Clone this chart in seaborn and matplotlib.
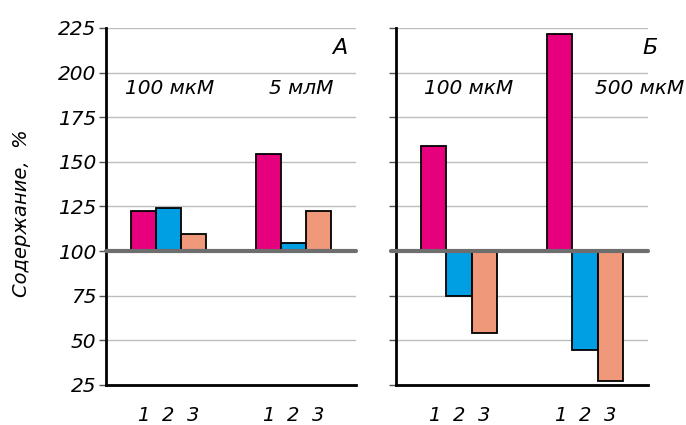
import matplotlib
matplotlib.use("Agg")
import matplotlib.pyplot as plt
import matplotlib.transforms as mtransforms
import seaborn as sns
import pandas as pd

# Content (% of control) for the three compounds at each concentration
groups_a = ["100 мкМ", "5 млМ"]
values_a_1 = [122.5, 154.5]
values_a_2 = [124.0, 104.5]
values_a_3 = [109.5, 122.5]

groups_b = ["100 мкМ", "500 мкМ"]
values_b_1 = [159.0, 221.5]
values_b_2 = [75.0, 44.5]
values_b_3 = [54.0, 27.0]

series = ["1", "2", "3"]
colors = ["#E6007E", "#009FE3", "#F0997A"]
yticks = [25, 50, 75, 100, 125, 150, 175, 200, 225]
base = 100

sns.set_theme(style="white")
plt.rcParams["font.family"] = ["DejaVu Sans"]
plt.rcParams["font.style"] = "italic"
plt.rcParams["text.color"] = "black"
plt.rcParams["ytick.labelcolor"] = "black"

fig = plt.figure(figsize=(6.86, 4.25), dpi=100)
W, H = 686, 425


def px_axes(x0, x1, y0, y1):
    return fig.add_axes([x0 / W, 1 - y1 / H, (x1 - x0) / W, (y1 - y0) / H])


def panel(ax, groups, v1, v2, v3, letter, show_labels, label_x, letter_x):
    df = pd.DataFrame({
        "group": groups * 3,
        "series": [s for s in series for _ in groups],
        "value": list(v1) + list(v2) + list(v3),
    })
    df["delta"] = df["value"] - base
    sns.barplot(data=df, x="group", y="delta", hue="series", order=groups,
                hue_order=series, palette=colors, width=0.6, bottom=base,
                edgecolor="black", linewidth=1.3, saturation=1, ax=ax,
                legend=False, zorder=3)
    ax.set_xlim(-0.5, 1.5)
    ax.set_ylim(25, 225)
    ax.set_yticks(yticks)
    ax.yaxis.grid(True, color="#bdbdbd", linewidth=1.0, zorder=0)
    ax.set_axisbelow(True)
    ax.axhline(base, color="#6e6e6e", linewidth=3, zorder=4,
               xmin=-0.02 if not show_labels else 0, clip_on=False)
    for side in ("top", "right"):
        ax.spines[side].set_visible(False)
    for side in ("left", "bottom"):
        ax.spines[side].set_color("black")
        ax.spines[side].set_linewidth(2)
    ax.tick_params(axis="y", direction="out", length=5, width=1,
                   color="#555555", labelcolor="black", labelsize=14.5,
                   left=True, pad=2)
    if not show_labels:
        ax.set_yticklabels([])
    ax.set_xticks([])
    ax.set_xlabel("")
    ax.set_ylabel("")

    # series numbers under each bar
    trans = mtransforms.blended_transform_factory(ax.transData, ax.transAxes)
    for i, patch in enumerate(ax.patches):
        s = series[i // len(groups)]
        ax.text(patch.get_x() + patch.get_width() / 2, -0.085, s,
                transform=trans, ha="center", va="center", fontsize=14,
                style="italic", color="black")
    for g, gx in zip(groups, label_x):
        ax.text(gx, 0.83, g, transform=trans, ha="center", va="center",
                fontsize=14.5, style="italic", color="black")
    ax.text(letter_x, 0.945, letter, transform=ax.transAxes, ha="right",
            va="center", fontsize=16, style="italic", color="black")


ax1 = px_axes(106, 356, 28, 385)
ax2 = px_axes(396, 648, 28, 385)
panel(ax1, groups_a, values_a_1, values_a_2, values_a_3, "А", True,
      [0.01, 1.06], 0.965)
panel(ax2, groups_b, values_b_1, values_b_2, values_b_3, "Б", False,
      [0.08, 1.43], 1.04)

fig.text(22 / W, 1 - 213 / H, "Содержание,  %", rotation=90, ha="center",
         va="center", fontsize=14, style="italic", color="black")

fig.savefig("out.png", dpi=100)
